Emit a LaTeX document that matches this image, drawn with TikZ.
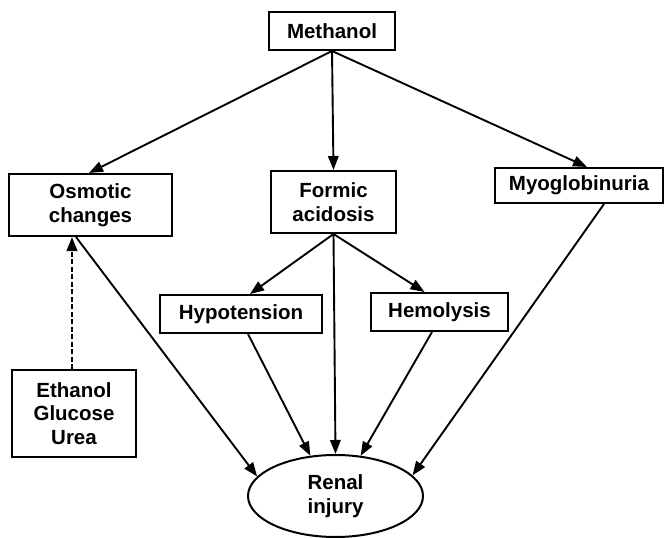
\documentclass[tikz,border=0pt]{standalone}
\usepackage{fontspec}
\setmainfont{Liberation Sans}
\usetikzlibrary{arrows.meta,shapes.geometric}
\begin{document}
\begin{tikzpicture}[x=1pt,y=-1pt,
  txt/.style={font=\bfseries\fontsize{20.5}{23.5}\selectfont},
  box/.style={draw,line width=2pt,inner sep=0pt,align=center,txt},
  oval/.style={draw,ellipse,line width=2pt,inner sep=0pt,align=center,txt},
  arr/.style={line width=1.9pt,-{Triangle[length=14pt,width=10.5pt]}},
  darr/.style={arr,dash pattern=on 5pt off 2.5pt,line width=2.2pt}]
\useasboundingbox[fill=white] (0,0) rectangle (665,538);
\node[box,minimum width=126pt,minimum height=38pt] (meth) at (332,31) {Methanol};
\node[box,minimum width=163pt,minimum height=62pt] (osm) at (90.5,205) {Osmotic\\changes};
\node[box,minimum width=125pt,minimum height=62pt] (form) at (333.5,202) {Formic\\acidosis};
\node[box,minimum width=168pt,minimum height=35pt] (myo) at (579,185.5) {Myoglobinuria};
\node[box,minimum width=162pt,minimum height=38pt] (hypo) at (241,314) {Hypotension};
\node[box,minimum width=137pt,minimum height=38pt] (hemo) at (439.5,312) {Hemolysis};
\node[box,minimum width=124pt,minimum height=87pt] (eth) at (74,413.5) {Ethanol\\Glucose\\Urea};
\node[oval,minimum width=175pt,minimum height=82pt] (renal) at (335.5,496) {Renal\\injury};
\draw[arr] (meth.south) -- ([xshift=-1.5pt]osm.north);
\draw[arr] (meth.south) -- (form.north);
\draw[arr] (meth.south) -- ([xshift=8pt]myo.north);
\draw[arr] (form.south) -- ([xshift=9pt]hypo.north);
\draw[arr] (form.south) -- ([xshift=-15pt]hemo.north);
\draw[arr] (form.south) -- (renal.north);
\draw[arr] ([xshift=7pt]hypo.south) -- (renal.122);
\draw[arr] ([xshift=-7.5pt]hemo.south) -- (renal.58);
\draw[arr] ([xshift=25pt]myo.south) -- (renal.15);
\draw[arr] ([xshift=-14.5pt]osm.south) -- (renal.166);
\draw[darr] ([xshift=-2pt]eth.north) -- ([xshift=-18.5pt]osm.south);
\end{tikzpicture}
\end{document}
